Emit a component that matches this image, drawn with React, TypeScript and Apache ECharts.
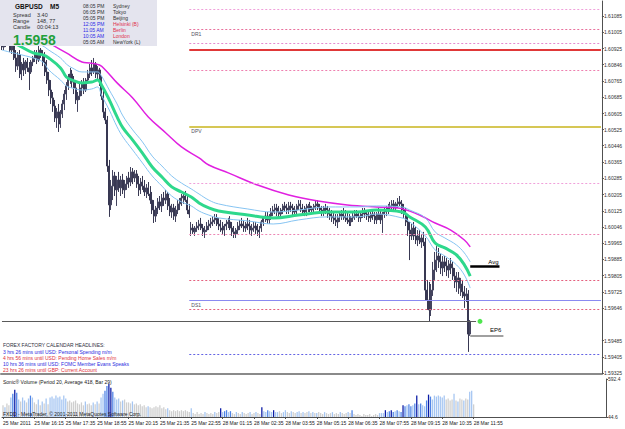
import React, { useEffect, useRef } from "react";
import * as echarts from "echarts";

// ---------- data ----------
const timeLabels = [
  "25 Mar 2011", "25 Mar 16:15", "25 Mar 17:35", "25 Mar 18:55", "25 Mar 20:15", "25 Mar 21:35",
  "25 Mar 22:55", "28 Mar 01:15", "28 Mar 02:35", "28 Mar 03:55", "28 Mar 05:15", "28 Mar 06:35",
  "28 Mar 07:55", "28 Mar 09:15", "28 Mar 10:35", "28 Mar 11:55",
];

const opens = [
  1.60948, 1.60933, 1.60943, 1.60968, 1.60948, 1.60918, 1.60938, 1.60879, 1.60839, 1.60894,
  1.60800, 1.60849, 1.60820, 1.60859, 1.60830, 1.60810, 1.60859, 1.60879, 1.60899, 1.60869,
  1.60918, 1.60894, 1.60859, 1.60810, 1.60770, 1.60721, 1.60682, 1.60642, 1.60583, 1.60613,
  1.60553, 1.60603, 1.60652, 1.60701, 1.60741, 1.60780, 1.60800, 1.60760, 1.60731, 1.60672,
  1.60691, 1.60731, 1.60751, 1.60721, 1.60770, 1.60800, 1.60830, 1.60810, 1.60849, 1.60800,
  1.60820, 1.60760, 1.60691, 1.60613, 1.60573, 1.60346, 1.60154, 1.60247, 1.60297, 1.60228,
  1.60277, 1.60238, 1.60277, 1.60228, 1.60257, 1.60287, 1.60267, 1.60317, 1.60287, 1.60307,
  1.60257, 1.60228, 1.60267, 1.60247, 1.60218, 1.60238, 1.60208, 1.60178, 1.60129, 1.60099,
  1.60139, 1.60169, 1.60149, 1.60188, 1.60178, 1.60208, 1.60149, 1.60119, 1.60139, 1.60099,
  1.60129, 1.60159, 1.60178, 1.60188, 1.60198, 1.60178, 1.60129,
  1.60030, 1.60040, 1.60021, 1.60040, 1.60050, 1.60060, 1.60040, 1.60021, 1.60030, 1.60050,
  1.60060, 1.60070, 1.60080, 1.60090, 1.60060, 1.60050, 1.60040, 1.60030, 1.60050, 1.60060,
  1.60070, 1.60040, 1.60021, 1.60011, 1.60030, 1.60050, 1.60060, 1.60050, 1.60040, 1.60060,
  1.60050, 1.60030, 1.60040, 1.60050, 1.60030, 1.60021, 1.60040, 1.60070, 1.60090, 1.60099,
  1.60080, 1.60099, 1.60119, 1.60129, 1.60139, 1.60119, 1.60109, 1.60129, 1.60149, 1.60139,
  1.60129, 1.60149, 1.60139, 1.60119, 1.60129, 1.60149, 1.60159, 1.60139, 1.60129, 1.60119,
  1.60139, 1.60149, 1.60129, 1.60139, 1.60149, 1.60159, 1.60139, 1.60129, 1.60119, 1.60139,
  1.60129, 1.60109, 1.60099, 1.60090, 1.60080, 1.60070, 1.60090, 1.60099, 1.60109, 1.60099,
  1.60090, 1.60080, 1.60070, 1.60090, 1.60099, 1.60109, 1.60099, 1.60090, 1.60109, 1.60119,
  1.60109, 1.60099, 1.60090, 1.60109, 1.60099, 1.60080, 1.60109, 1.60099, 1.60080, 1.60109,
  1.60119, 1.60129, 1.60139, 1.60149, 1.60159, 1.60139, 1.60159, 1.60169, 1.60159, 1.60129,
  1.60109, 1.60070, 1.60030, 1.60001, 1.60040, 1.60001, 1.59981, 1.60001, 1.59971, 1.59991,
  1.59971, 1.59734, 1.59685, 1.59636, 1.59734, 1.59833, 1.59882, 1.59902, 1.59873, 1.59843,
  1.59873, 1.59853, 1.59833, 1.59863, 1.59843, 1.59803, 1.59774, 1.59794, 1.59744, 1.59764,
  1.59725, 1.59705, 1.59715, 1.59517,
];

const closes = [
  1.60933, 1.60943, 1.60968, 1.60948, 1.60918, 1.60938, 1.60879, 1.60839, 1.60894, 1.60800,
  1.60849, 1.60820, 1.60859, 1.60830, 1.60810, 1.60859, 1.60879, 1.60899, 1.60869, 1.60918,
  1.60894, 1.60859, 1.60810, 1.60770, 1.60721, 1.60682, 1.60642, 1.60583, 1.60613, 1.60553,
  1.60603, 1.60652, 1.60701, 1.60741, 1.60780, 1.60800, 1.60760, 1.60731, 1.60672, 1.60691,
  1.60731, 1.60751, 1.60721, 1.60770, 1.60800, 1.60830, 1.60810, 1.60849, 1.60800, 1.60820,
  1.60760, 1.60691, 1.60613, 1.60573, 1.60346, 1.60154, 1.60247, 1.60297, 1.60228, 1.60277,
  1.60238, 1.60277, 1.60228, 1.60257, 1.60287, 1.60267, 1.60317, 1.60287, 1.60307, 1.60257,
  1.60228, 1.60267, 1.60247, 1.60218, 1.60238, 1.60208, 1.60178, 1.60129, 1.60099, 1.60139,
  1.60169, 1.60149, 1.60188, 1.60178, 1.60208, 1.60149, 1.60119, 1.60139, 1.60099, 1.60129,
  1.60159, 1.60178, 1.60188, 1.60198, 1.60178, 1.60129, 1.60109,
  1.60040, 1.60021, 1.60040, 1.60050, 1.60060, 1.60040, 1.60021, 1.60030, 1.60050, 1.60060,
  1.60070, 1.60080, 1.60090, 1.60060, 1.60050, 1.60040, 1.60030, 1.60050, 1.60060, 1.60070,
  1.60040, 1.60021, 1.60011, 1.60030, 1.60050, 1.60060, 1.60050, 1.60040, 1.60060, 1.60050,
  1.60030, 1.60040, 1.60050, 1.60030, 1.60021, 1.60040, 1.60070, 1.60090, 1.60099, 1.60080,
  1.60099, 1.60119, 1.60129, 1.60139, 1.60119, 1.60109, 1.60129, 1.60149, 1.60139, 1.60129,
  1.60149, 1.60139, 1.60119, 1.60129, 1.60149, 1.60159, 1.60139, 1.60129, 1.60119, 1.60139,
  1.60149, 1.60129, 1.60139, 1.60149, 1.60159, 1.60139, 1.60129, 1.60119, 1.60139, 1.60129,
  1.60109, 1.60099, 1.60090, 1.60080, 1.60070, 1.60090, 1.60099, 1.60109, 1.60099, 1.60090,
  1.60080, 1.60070, 1.60090, 1.60099, 1.60109, 1.60099, 1.60090, 1.60109, 1.60119, 1.60109,
  1.60099, 1.60090, 1.60109, 1.60099, 1.60080, 1.60109, 1.60099, 1.60080, 1.60109, 1.60119,
  1.60129, 1.60139, 1.60149, 1.60159, 1.60139, 1.60159, 1.60169, 1.60159, 1.60129, 1.60109,
  1.60070, 1.60030, 1.60001, 1.60040, 1.60001, 1.59981, 1.60001, 1.59971, 1.59991, 1.59971,
  1.59734, 1.59685, 1.59636, 1.59734, 1.59833, 1.59882, 1.59902, 1.59873, 1.59843, 1.59873,
  1.59853, 1.59833, 1.59863, 1.59843, 1.59803, 1.59774, 1.59794, 1.59744, 1.59764, 1.59725,
  1.59705, 1.59715, 1.59517, 1.59580,
];

const highs = [
  1.60968, 1.60958, 1.60978, 1.60987, 1.60968, 1.60948, 1.60948, 1.60918, 1.60908, 1.60918,
  1.60859, 1.60879, 1.60869, 1.60879, 1.60859, 1.60869, 1.60889, 1.60918, 1.60918, 1.60938,
  1.60928, 1.60918, 1.60908, 1.60869, 1.60810, 1.60770, 1.60711, 1.60672, 1.60632, 1.60652,
  1.60622, 1.60672, 1.60721, 1.60760, 1.60800, 1.60830, 1.60820, 1.60790, 1.60770, 1.60711,
  1.60751, 1.60770, 1.60780, 1.60780, 1.60820, 1.60849, 1.60869, 1.60879, 1.60859, 1.60839,
  1.60830, 1.60790, 1.60721, 1.60632, 1.60593, 1.60376, 1.60277, 1.60326, 1.60317, 1.60297,
  1.60317, 1.60297, 1.60307, 1.60277, 1.60297, 1.60317, 1.60341, 1.60336, 1.60326, 1.60326,
  1.60297, 1.60287, 1.60297, 1.60277, 1.60257, 1.60267, 1.60247, 1.60218, 1.60178, 1.60149,
  1.60188, 1.60198, 1.60208, 1.60218, 1.60228, 1.60218, 1.60188, 1.60159, 1.60159, 1.60149,
  1.60178, 1.60188, 1.60208, 1.60218, 1.60223, 1.60198, 1.60159,
  1.60070, 1.60060, 1.60050, 1.60070, 1.60080, 1.60090, 1.60060, 1.60050, 1.60070, 1.60080,
  1.60090, 1.60099, 1.60109, 1.60109, 1.60090, 1.60080, 1.60070, 1.60060, 1.60080, 1.60090,
  1.60099, 1.60070, 1.60050, 1.60040, 1.60070, 1.60080, 1.60090, 1.60080, 1.60070, 1.60090,
  1.60080, 1.60060, 1.60070, 1.60070, 1.60060, 1.60050, 1.60080, 1.60099, 1.60119, 1.60119,
  1.60109, 1.60139, 1.60149, 1.60159, 1.60159, 1.60149, 1.60139, 1.60159, 1.60169, 1.60159,
  1.60169, 1.60169, 1.60159, 1.60149, 1.60159, 1.60178, 1.60178, 1.60159, 1.60149, 1.60159,
  1.60159, 1.60169, 1.60149, 1.60159, 1.60178, 1.60178, 1.60159, 1.60149, 1.60149, 1.60159,
  1.60149, 1.60139, 1.60129, 1.60119, 1.60109, 1.60109, 1.60119, 1.60129, 1.60139, 1.60129,
  1.60119, 1.60109, 1.60099, 1.60119, 1.60129, 1.60129, 1.60119, 1.60119, 1.60139, 1.60139,
  1.60129, 1.60119, 1.60119, 1.60129, 1.60119, 1.60119, 1.60139, 1.60129, 1.60119, 1.60139,
  1.60149, 1.60159, 1.60169, 1.60178, 1.60178, 1.60169, 1.60188, 1.60198, 1.60178, 1.60159,
  1.60139, 1.60109, 1.60070, 1.60060, 1.60070, 1.60050, 1.60030, 1.60030, 1.60011, 1.60021,
  1.59991, 1.59784, 1.59774, 1.59764, 1.59873, 1.59922, 1.59951, 1.59942, 1.59912, 1.59902,
  1.59902, 1.59892, 1.59882, 1.59892, 1.59873, 1.59843, 1.59823, 1.59823, 1.59794, 1.59784,
  1.59754, 1.59744, 1.59734, 1.59586,
];

const lows = [
  1.60918, 1.60918, 1.60933, 1.60938, 1.60908, 1.60899, 1.60869, 1.60810, 1.60820, 1.60780,
  1.60770, 1.60790, 1.60800, 1.60810, 1.60721, 1.60800, 1.60839, 1.60859, 1.60849, 1.60859,
  1.60879, 1.60839, 1.60790, 1.60751, 1.60691, 1.60652, 1.60613, 1.60563, 1.60534, 1.60514,
  1.60534, 1.60583, 1.60622, 1.60672, 1.60721, 1.60751, 1.60731, 1.60701, 1.60652, 1.60613,
  1.60672, 1.60691, 1.60701, 1.60711, 1.60751, 1.60780, 1.60790, 1.60800, 1.60780, 1.60770,
  1.60741, 1.60672, 1.60583, 1.60553, 1.60317, 1.60095, 1.60129, 1.60178, 1.60198, 1.60149,
  1.60218, 1.60198, 1.60208, 1.60188, 1.60228, 1.60238, 1.60247, 1.60257, 1.60267, 1.60238,
  1.60198, 1.60208, 1.60228, 1.60198, 1.60188, 1.60198, 1.60159, 1.60109, 1.60065, 1.60070,
  1.60109, 1.60129, 1.60119, 1.60149, 1.60159, 1.60129, 1.60099, 1.60090, 1.60080, 1.60070,
  1.60109, 1.60129, 1.60149, 1.60159, 1.60169, 1.60109, 1.60090,
  1.60001, 1.60011, 1.60001, 1.60021, 1.60030, 1.60030, 1.60001, 1.59991, 1.60021, 1.60030,
  1.60040, 1.60050, 1.60060, 1.60050, 1.60030, 1.60021, 1.60011, 1.60001, 1.60030, 1.60040,
  1.60030, 1.60001, 1.59991, 1.59991, 1.60011, 1.60030, 1.60040, 1.60021, 1.60021, 1.60030,
  1.60011, 1.60001, 1.60021, 1.60011, 1.60001, 1.59991, 1.60021, 1.60050, 1.60070, 1.60060,
  1.60060, 1.60080, 1.60099, 1.60109, 1.60099, 1.60090, 1.60090, 1.60109, 1.60119, 1.60109,
  1.60109, 1.60119, 1.60099, 1.60099, 1.60109, 1.60129, 1.60119, 1.60109, 1.60099, 1.60099,
  1.60119, 1.60119, 1.60109, 1.60119, 1.60129, 1.60129, 1.60119, 1.60099, 1.60099, 1.60109,
  1.60090, 1.60080, 1.60070, 1.60060, 1.60050, 1.60040, 1.60070, 1.60080, 1.60080, 1.60070,
  1.60060, 1.60050, 1.60050, 1.60070, 1.60080, 1.60090, 1.60070, 1.60070, 1.60090, 1.60090,
  1.60080, 1.60070, 1.60070, 1.60080, 1.60060, 1.60060, 1.60080, 1.60060, 1.60016, 1.60090,
  1.60099, 1.60109, 1.60119, 1.60129, 1.60119, 1.60119, 1.60139, 1.60149, 1.60109, 1.60090,
  1.60050, 1.60001, 1.59882, 1.59981, 1.59981, 1.59961, 1.59951, 1.59961, 1.59942, 1.59951,
  1.59685, 1.59636, 1.59577, 1.59606, 1.59705, 1.59784, 1.59823, 1.59843, 1.59813, 1.59803,
  1.59823, 1.59803, 1.59794, 1.59813, 1.59784, 1.59744, 1.59725, 1.59715, 1.59705, 1.59695,
  1.59646, 1.59675, 1.59429, 1.59508,
];

// Sonic volume: value and class (0 neutral, 1 light, 2 medium, 3 climax)
const volumes = [
  213, 185, 241, 213, 325, 381, 437, 395, 297, 269,
  325, 283, 255, 311, 353, 325, 255, 227, 297, 213,
  269, 241, 311, 227, 325, 339, 311, 353, 325, 339,
  297, 353, 311, 269, 283, 255, 269, 283, 241, 227,
  255, 213, 269, 227, 241, 213, 255, 227, 269, 241,
  325, 381, 423, 493, 521, 465, 409, 325, 297, 311,
  269, 283, 297, 255, 255, 241, 269, 227, 241, 213,
  227, 199, 213, 185, 199, 185, 171, 185, 199, 185,
  213, 171, 185, 157, 171, 143, 129, 143, 129, 143,
  129, 143, 129, 143, 129, 115, 171, 101, 87, 115,
  87, 101, 87, 115, 101, 87, 101, 87, 115, 101,
  115, 171, 115, 129, 143, 115, 129, 101, 87, 115,
  101, 87, 115, 101, 87, 101, 115, 87, 101, 115,
  101, 87, 185, 129, 115, 143, 129, 115, 143, 115,
  115, 129, 101, 115, 143, 115, 101, 129, 115, 101,
  115, 129, 101, 115, 101, 115, 129, 101, 115, 101,
  101, 115, 101, 87, 115, 101, 87, 101, 115, 87,
  101, 87, 115, 101, 87, 101, 115, 101, 143, 87,
  73, 87, 73, 59, 87, 73, 73, 87, 59, 73,
  87, 73, 101, 101, 101, 143, 115, 129, 143, 115,
  129, 143, 129, 115, 213, 199, 213, 227, 199, 213,
  241, 353, 227, 241, 213, 199, 283, 367, 339, 297,
  353, 339, 353, 339, 325, 353, 297, 311, 283, 297,
  381, 283, 269, 311, 297, 283, 311, 297, 409, 423, 227,
];
const volumeClasses = [
  0, 1, 0, 0, 1, 2, 3, 2, 1, 0,
  1, 1, 0, 1, 2, 1, 0, 0, 1, 0,
  1, 0, 1, 0, 1, 1, 1, 1, 1, 1,
  1, 1, 1, 0, 0, 0, 0, 0, 0, 0,
  0, 0, 1, 0, 0, 0, 1, 0, 1, 0,
  1, 1, 2, 2, 3, 3, 2, 1, 1, 1,
  0, 1, 0, 0, 0, 0, 1, 0, 0, 0,
  0, 0, 0, 0, 1, 0, 0, 0, 0, 0,
  0, 0, 0, 0, 1, 0, 0, 0, 0, 0,
  0, 0, 0, 0, 0, 0, 1, 0, 0, 0,
  0, 0, 0, 1, 0, 0, 0, 0, 1, 0,
  0, 3, 1, 2, 2, 1, 2, 0, 0, 1,
  0, 0, 1, 0, 0, 0, 1, 0, 0, 1,
  0, 0, 3, 1, 1, 2, 1, 1, 3, 1,
  1, 0, 0, 1, 1, 0, 0, 1, 0, 0,
  1, 1, 0, 1, 0, 0, 1, 0, 1, 0,
  1, 0, 0, 0, 1, 0, 0, 0, 1, 0,
  0, 0, 1, 0, 0, 0, 1, 0, 2, 0,
  0, 0, 0, 0, 0, 0, 0, 0, 0, 0,
  0, 0, 1, 1, 1, 3, 1, 2, 3, 2,
  1, 2, 1, 2, 3, 2, 1, 2, 2, 1,
  2, 3, 1, 2, 1, 1, 2, 3, 2, 1,
  1, 1, 1, 1, 1, 1, 0, 0, 0, 0,
  1, 0, 1, 0, 0, 1, 0, 0, 1, 1, 0,
];

// moving averages read at sample bars
const fastIndex = [0, 4, 8, 16, 21, 24, 30, 33, 36, 41, 46, 49, 51, 55, 59, 62, 67, 72, 77, 82, 87, 92, 97, 101, 106, 111, 126, 139, 152, 167, 182, 192, 205, 209, 217, 222, 227, 233, 237, 240];
const maGreen = [
  1.60978, 1.60958, 1.60943, 1.60904, 1.60894, 1.60879, 1.60830, 1.60785, 1.60770, 1.60756,
  1.60760, 1.60770, 1.60746, 1.60672, 1.60588, 1.60534, 1.60474, 1.60410, 1.60341, 1.60292,
  1.60243, 1.60218, 1.60193, 1.60164, 1.60139, 1.60124, 1.60104, 1.60090, 1.60104, 1.60119,
  1.60119, 1.60129, 1.60119, 1.60095, 1.60045, 1.59966, 1.59942, 1.59907, 1.59858, 1.59803,
];
const bandUpper = [
  1.61017, 1.60997, 1.60987, 1.60958, 1.60938, 1.60918, 1.60879, 1.60849, 1.60830, 1.60810,
  1.60810, 1.60810, 1.60790, 1.60721, 1.60652, 1.60593, 1.60524, 1.60465, 1.60395, 1.60346,
  1.60297, 1.60262, 1.60233, 1.60208, 1.60178, 1.60159, 1.60134, 1.60119, 1.60129, 1.60144,
  1.60144, 1.60149, 1.60144, 1.60129, 1.60090, 1.60021, 1.59991, 1.59956, 1.59917, 1.59873,
];
const bandLower = [
  1.60918, 1.60908, 1.60899, 1.60879, 1.60859, 1.60820, 1.60770, 1.60741, 1.60731, 1.60721,
  1.60726, 1.60736, 1.60696, 1.60622, 1.60539, 1.60489, 1.60425, 1.60361, 1.60297, 1.60247,
  1.60198, 1.60169, 1.60149, 1.60124, 1.60104, 1.60090, 1.60075, 1.60060, 1.60080, 1.60095,
  1.60095, 1.60109, 1.60090, 1.60070, 1.60001, 1.59932, 1.59902, 1.59858, 1.59808, 1.59744,
];
const slowIndex = [0, 10, 20, 24, 33, 41, 45, 50, 53, 59, 67, 75, 84, 92, 101, 106, 116, 131, 147, 162, 177, 192, 203, 214, 222, 230, 237, 240];
const maMagenta = [
  1.61042, 1.61007, 1.60978, 1.60953, 1.60904, 1.60859, 1.60854, 1.60844, 1.60820, 1.60756,
  1.60682, 1.60588, 1.60509, 1.60440, 1.60386, 1.60351, 1.60312, 1.60252, 1.60203, 1.60173,
  1.60154, 1.60144, 1.60139, 1.60104, 1.60065, 1.60030, 1.59981, 1.59947,
];

const priceTicks = [
  1.61085, 1.61005, 1.60925, 1.60846, 1.60765, 1.60685, 1.60605, 1.60525, 1.60446, 1.60365,
  1.60285, 1.60205, 1.60125, 1.60046, 1.59965, 1.59885, 1.59805, 1.59725, 1.59646, 1.59485,
  1.59405, 1.59325,
];
const volumeTicks = [592.4, 44.6];

const levelPrices = [1.61121, 1.6102, 1.60951, 1.60921, 1.60817, 1.6054, 1.60259, 1.60009, 1.59784, 1.59685, 1.59641, 1.59417];
const levelNames = ["", "DR1", "", "", "", "DPV", "", "", "", "DS1", "", ""];
const bidPrice = 1.5958;
const avgPrice = 1.59851;
const ep6Price = 1.5951;

const infoLeftLabels = ["Spread", "Range", "Candle"];
const infoLeftValues = ["3.40", "148, 77", "00:04:13"];
const clockTimes = ["08:05 PM", "06:05 PM", "05:05 PM", "12:05 PM", "11:05 AM", "10:05 AM", "05:05 AM"];
const clockCities = ["Sydney", "Tokyo", "Beijing", "Helsinki (B)", "Berlin", "London", "NewYork (L)"];
const newsLines = [
  "3 hrs 26 mins until USD: Personal Spending m/m",
  "4 hrs 56 mins until USD: Pending Home Sales m/m",
  "10 hrs 36 mins until USD: FOMC Member Evans Speaks",
  "23 hrs 26 mins until GBP: Current Account",
];

// ---------- layout / style ----------
const BAR_COUNT = opens.length;
const SLOT_COUNT = 308;
const LABEL_EVERY = 16;
const SESSION_START = 96;
const FONT = "'Liberation Sans', Arial, sans-serif";
const volumePalette = ["#cfcfcf", "#a6c6f2", "#4f84e6", "#0b1ca6"];
const levelStyles: any[] = [
  { color: "#f0a0da", type: [2, 2], width: 1 },
  { color: "#e8709c", type: [2, 2], width: 1 },
  { color: "#e48ad0", type: [2, 2], width: 1 },
  { color: "#e03838", type: "solid", width: 2 },
  { color: "#ee80b0", type: [2, 2], width: 1 },
  { color: "#c8b41c", type: "solid", width: 1.5 },
  { color: "#f0a0da", type: [2, 2], width: 1 },
  { color: "#ec86b4", type: [2, 2], width: 1 },
  { color: "#e4607e", type: [2, 2], width: 1 },
  { color: "#8a8af2", type: "solid", width: 1 },
  { color: "#e4607e", type: [2, 2], width: 1 },
  { color: "#6464e4", type: [2, 2], width: 1 },
];

function buildOption(): any {
  const categories = Array.from({ length: SLOT_COUNT }, (_, i) => String(i));
  const candleData = opens.map((o, i) => [o, closes[i], lows[i], highs[i]]);
  const pairs = (idx: number[], vals: number[]) => idx.map((k, j) => [k, vals[j]]);
  const volumeData = volumes.map((v, i) => ({ value: v, itemStyle: { color: volumePalette[volumeClasses[i]] } }));
  const showLabel = (index: number) => index % LABEL_EVERY === 0 && index < BAR_COUNT;
  const lastBar = BAR_COUNT - 1;

  const levelLines = levelPrices.map((p, k) => [
    {
      coord: [SESSION_START, p],
      lineStyle: levelStyles[k],
      label: {
        show: levelNames[k] !== "",
        formatter: levelNames[k],
        position: "insideStartBottom",
        fontSize: 5,
        color: "#505060",
        fontFamily: FONT,
        distance: 2,
      },
    },
    { coord: [SLOT_COUNT - 1, p] },
  ]);

  const markers = [
    [
      { coord: [0, bidPrice], lineStyle: { color: "#5a5a5a", width: 1, type: "solid" }, label: { show: false } },
      { coord: [lastBar + 3, bidPrice] },
    ],
    [
      {
        coord: [0, bidPrice],
        lineStyle: { opacity: 0 },
        label: {
          show: true, position: "end", formatter: bidPrice.toFixed(5), color: "#ffffff", backgroundColor: "#000000",
          fontSize: 5, fontFamily: FONT, padding: [1, 1], distance: 1,
        },
      },
      { coord: [SLOT_COUNT - 1, bidPrice] },
    ],
    [
      {
        coord: [lastBar, avgPrice], lineStyle: { color: "#000000", width: 2.5, type: "solid" },
        label: { show: true, position: "insideEndTop", formatter: "Avg", fontSize: 6, color: "#000000", fontFamily: FONT, distance: 1 },
      },
      { coord: [lastBar + 15, avgPrice] },
    ],
    [
      {
        coord: [lastBar, ep6Price], lineStyle: { color: "#a0a0a0", width: 2, type: "solid" },
        label: { show: true, position: "insideEndTop", formatter: "EP6", fontSize: 6, color: "#000000", fontFamily: FONT, distance: 2 },
      },
      { coord: [lastBar + 17, ep6Price] },
    ],
  ];

  const txt = (x: number, y: number, text: string, size: number, fill: string, weight = "normal") => ({
    type: "text", x, y, z: 200, zlevel: 0,
    style: { text, fontSize: size, fontFamily: FONT, fontWeight: weight, fill, verticalAlign: "middle", align: "left" },
  });

  const elements: any[] = [
    { type: "rect", z: 190, shape: { x: 0, y: 0, width: 157, height: 46 }, style: { fill: "#e4e4ee" } },
    txt(15, 6, "GBPUSD", 6.5, "#101010", "bold"),
    txt(50, 6, "M5", 6.5, "#101010", "bold"),
  ];
  infoLeftLabels.forEach((t, k) => {
    elements.push(txt(13, 15 + k * 6.2, t, 5.5, "#303030"));
    elements.push(txt(37, 15 + k * 6.2, infoLeftValues[k], 5.5, "#303030"));
  });
  elements.push(txt(13, 40, "1.5958", 14, "#22a03a", "bold"));
  clockTimes.forEach((t, k) => {
    const hi = k >= 3 && k <= 5;
    elements.push(txt(83, 5.7 + k * 6, t, 5, hi ? "#2a2ae6" : "#303030"));
    elements.push(txt(113, 5.7 + k * 6, clockCities[k], 5, hi ? "#e0304c" : "#303030"));
  });
  elements.push(txt(3, 345, "FOREX FACTORY CALENDAR HEADLINES:", 5, "#303040"));
  newsLines.forEach((t, k) => elements.push(txt(3, 352 + k * 5.9, t, 5, k % 2 === 0 ? "#2a2ae0" : "#e0303a")));
  elements.push(txt(3, 382, "Sonic\u00ae Volume (Period 20, Average 418, Bar 29)", 5, "#202020"));
  elements.push(txt(3, 414, "FXDD - MetaTrader, \u00a9 2001-2011 MetaQuotes Software Corp.", 5, "#202020"));

  return {
    animation: false,
    backgroundColor: "#ffffff",
    textStyle: { fontFamily: FONT },
    grid: [
      { left: 1, right: 19, top: 1, height: 373 },
      { left: 1, right: 19, top: 379, height: 38 },
    ],
    xAxis: [
      {
        type: "category", gridIndex: 0, data: categories, boundaryGap: true,
        axisLine: { show: true, lineStyle: { color: "#8a8a8a", width: 2 } },
        axisTick: { show: false }, axisLabel: { show: false }, splitLine: { show: false },
      },
      {
        type: "category", gridIndex: 1, data: categories, boundaryGap: true,
        axisLine: { show: true, lineStyle: { color: "#505050", width: 1 } },
        axisTick: { show: true, interval: showLabel, alignWithLabel: true, length: 2, lineStyle: { color: "#505050" } },
        axisLabel: {
          show: true, interval: showLabel, align: "left", margin: 3, fontSize: 5, color: "#202020", fontFamily: FONT,
          formatter: (v: string) => timeLabels[Number(v) / LABEL_EVERY] ?? "",
        },
        splitLine: { show: false },
      },
    ],
    yAxis: [
      {
        type: "value", gridIndex: 0, position: "right", min: 1.5932, max: 1.6116, scale: true,
        axisLine: { show: true, lineStyle: { color: "#505050" } },
        axisTick: { show: true, length: 2, customValues: priceTicks, lineStyle: { color: "#505050" } },
        axisLabel: {
          show: true, customValues: priceTicks, margin: 2, fontSize: 5, color: "#303030", fontFamily: FONT,
          formatter: (v: number) => v.toFixed(5),
        },
        splitLine: { show: false },
      },
      {
        type: "value", gridIndex: 1, position: "right", min: 44.6, max: 592.4,
        axisLine: { show: true, lineStyle: { color: "#505050" } },
        axisTick: { show: true, length: 2, customValues: volumeTicks, lineStyle: { color: "#505050" } },
        axisLabel: {
          show: true, customValues: volumeTicks, margin: 2, fontSize: 5, color: "#303030", fontFamily: FONT,
          formatter: (v: number) => v.toFixed(1),
        },
        splitLine: { show: false },
      },
    ],
    series: [
      {
        type: "candlestick", xAxisIndex: 0, yAxisIndex: 0, data: candleData, barWidth: "75%",
        itemStyle: { color: "#7c7c94", color0: "#383852", borderColor: "#44445e", borderColor0: "#383852", borderWidth: 1 },
        markLine: { silent: true, symbol: ["none", "none"], data: [...levelLines, ...markers] },
      },
      {
        type: "line", xAxisIndex: 0, yAxisIndex: 0, data: pairs(slowIndex, maMagenta), smooth: 0.4,
        showSymbol: false, lineStyle: { color: "#e020e0", width: 1.5 },
      },
      {
        type: "line", xAxisIndex: 0, yAxisIndex: 0, data: pairs(fastIndex, bandUpper), smooth: 0.4,
        showSymbol: false, lineStyle: { color: "#86c4f2", width: 1 },
      },
      {
        type: "line", xAxisIndex: 0, yAxisIndex: 0, data: pairs(fastIndex, bandLower), smooth: 0.4,
        showSymbol: false, lineStyle: { color: "#86c4f2", width: 1 },
      },
      {
        type: "line", xAxisIndex: 0, yAxisIndex: 0, data: pairs(fastIndex, maGreen), smooth: 0.4,
        showSymbol: false, lineStyle: { color: "#2ed88c", width: 3 },
      },
      {
        type: "scatter", xAxisIndex: 0, yAxisIndex: 0, data: [[lastBar + 5, bidPrice]], symbolSize: 5,
        itemStyle: { color: "#22e022" },
      },
      {
        type: "bar", xAxisIndex: 1, yAxisIndex: 1, data: volumeData, barWidth: "65%",
      },
    ],
    graphic: { elements },
  };
}

export default function App() {
  const ref = useRef<HTMLDivElement>(null);
  useEffect(() => {
    if (!ref.current) return;
    const chart = echarts.init(ref.current, undefined, { renderer: "svg" });
    chart.setOption(buildOption());
    return () => chart.dispose();
  }, []);
  return <div ref={ref} style={{ position: "fixed", left: 0, top: 0, width: 625, height: 429 }} />;
}
